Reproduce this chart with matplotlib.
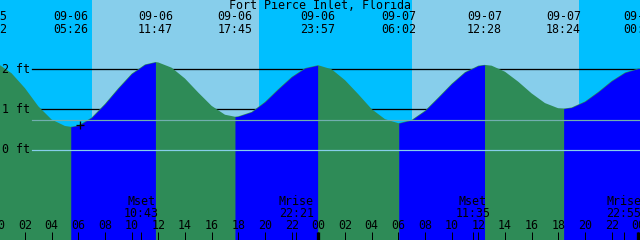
import matplotlib
matplotlib.use("Agg")
import matplotlib.pyplot as plt

# Tide events (highs and lows)
event_dates = ["09-05", "09-06", "09-06", "09-06", "09-06", "09-07", "09-07", "09-07", "09-08"]
event_times = ["23:22", "05:26", "11:47", "17:45", "23:57", "06:02", "12:28", "18:24", "00:11"]
event_ft = [2.17, 0.57, 2.18, 0.82, 2.10, 0.66, 2.11, 1.02, 2.02]

# Tide height read at each whole hour from 09-06 00:00
hourly_ft = [2.13, 1.90, 1.53, 1.08, 0.75, 0.59, 0.60, 0.80, 1.14, 1.53,
             1.89, 2.12, 2.17, 2.04, 1.77, 1.42, 1.09, 0.87, 0.83, 0.94,
             1.19, 1.51, 1.81, 2.03, 2.10, 2.00, 1.73, 1.38, 1.01, 0.76,
             0.66, 0.74, 0.97, 1.30, 1.64, 1.93, 2.09, 2.09, 1.94, 1.69,
             1.40, 1.16, 1.03, 1.05, 1.20, 1.44, 1.71, 1.92, 2.02]

# Sunrise / sunset
sun_dates = ["09-06", "09-06", "09-07", "09-07"]
sun_times = ["07:00", "19:32", "07:02", "19:34"]

# Moon events
moon_labels = ["Mset", "Mrise", "Mset", "Mrise"]
moon_dates = ["09-06", "09-06", "09-07", "09-07"]
moon_times = ["10:43", "22:21", "11:35", "22:55"]

depth_lines = [0, 1, 2]
now_hour, now_ft = 6.13, 0.61

title = "Fort Pierce Inlet, Florida"


def to_hours(date, time):
    day = int(date.split("-")[1]) - 6
    hh, mm = time.split(":")
    return day * 24 + int(hh) + int(mm) / 60


def ypx(p):
    # pixel row (from top) -> axes fraction
    return 1 - p / 240


event_h = [to_hours(d, t) for d, t in zip(event_dates, event_times)]
sun_h = [to_hours(d, t) for d, t in zip(sun_dates, sun_times)]
moon_h = [to_hours(d, t) for d, t in zip(moon_dates, moon_times)]

pts = sorted(list(zip(range(len(hourly_ft)), hourly_ft)) + list(zip(event_h, event_ft)))
t_all = [p[0] for p in pts]
y_all = [p[1] for p in pts]

NIGHT, DAY = "#00BFFF", "#87CEEB"
FLOOD, EBB = "#0000FF", "#2E8B57"
FONT = dict(family="DejaVu Sans Mono", fontsize=8.4, color="black")
PX = 0.72  # one pixel in points

fig = plt.figure(figsize=(6.4, 2.4), dpi=100)
ax = fig.add_axes([0, 0, 1, 1])
ax.set_axis_off()
x0 = 1.7 / (40 / 3)
ax.set_xlim(x0, 48 + x0)
ybot, ytop = (149.7 - 240) / 40.2, 149.7 / 40.2
ax.set_ylim(ybot, ytop)

# sky: night and day bands
ax.axvspan(-2, 50, color=NIGHT, lw=0, zorder=0)
for rise, sset in zip(sun_h[0::2], sun_h[1::2]):
    ax.axvspan(rise, sset, color=DAY, lw=0, zorder=0)

# depth lines behind the water
x_line = (32 + 1.7) / (40 / 3)
for lvl in depth_lines[1:]:
    ax.plot([x_line, 50], [lvl, lvl], color="black", lw=PX * 1.3, zorder=1)

# water: ebb everywhere, then flood between each low and the next high
ax.fill_between(t_all, y_all, ybot, color=EBB, lw=0, zorder=2)
for a, b, ya, yb in zip(event_h[:-1], event_h[1:], event_ft[:-1], event_ft[1:]):
    if yb > ya:
        seg = [(t, y) for t, y in pts if a <= t <= b]
        ax.fill_between([s[0] for s in seg], [s[1] for s in seg], ybot,
                        color=FLOOD, lw=0, zorder=3)

# datum and mark lines over the water
ax.plot([x_line, 50], [0, 0], color="#87CEEB", lw=PX * 1.2, zorder=4)
ax.plot([x_line, 50], [0.73, 0.73], color="#72AFAF", lw=PX * 1.2, zorder=4)

for lvl in depth_lines:
    ax.text(x0 + 1.5 / (40 / 3), lvl, f"{lvl} ft", ha="left", va="center", zorder=6, **FONT)

ax.plot([now_hour], [now_ft], marker="+", ms=6, mew=PX * 1.3, color="black", zorder=6)

# top labels
ax.text(24 + x0, ypx(5.5), title, ha="center", va="center",
        transform=ax.get_xaxis_transform(), zorder=6, **FONT)
for h, d, t in zip(event_h, event_dates, event_times):
    ax.text(h, ypx(17), d, ha="center", va="center",
            transform=ax.get_xaxis_transform(), zorder=6, **FONT)
    ax.text(h, ypx(29.7), t, ha="center", va="center",
            transform=ax.get_xaxis_transform(), zorder=6, **FONT)

# bottom hour axis
tr = ax.get_xaxis_transform()
hour_ticks = list(range(0, 49, 2))
for h in hour_ticks:
    ax.text(h, ypx(225.8), f"{h % 24:02d}", ha="center", va="center",
            transform=tr, zorder=6, **FONT)
ax.vlines(hour_ticks, 0, ypx(231.7), colors="black", lw=PX, transform=tr, zorder=6)
ax.vlines([24, 48], 0, ypx(231.7), colors="black", lw=PX * 3.3, transform=tr, zorder=6)

for h, lab, t in zip(moon_h, moon_labels, moon_times):
    ax.text(h, ypx(201.8), lab, ha="center", va="center", transform=tr, zorder=6, **FONT)
    ax.text(h, ypx(213.5), t, ha="center", va="center", transform=tr, zorder=6, **FONT)
ax.vlines(moon_h, 0, ypx(231.7), colors="black", lw=PX, transform=tr, zorder=6)

fig.savefig("out.png", dpi=100)
